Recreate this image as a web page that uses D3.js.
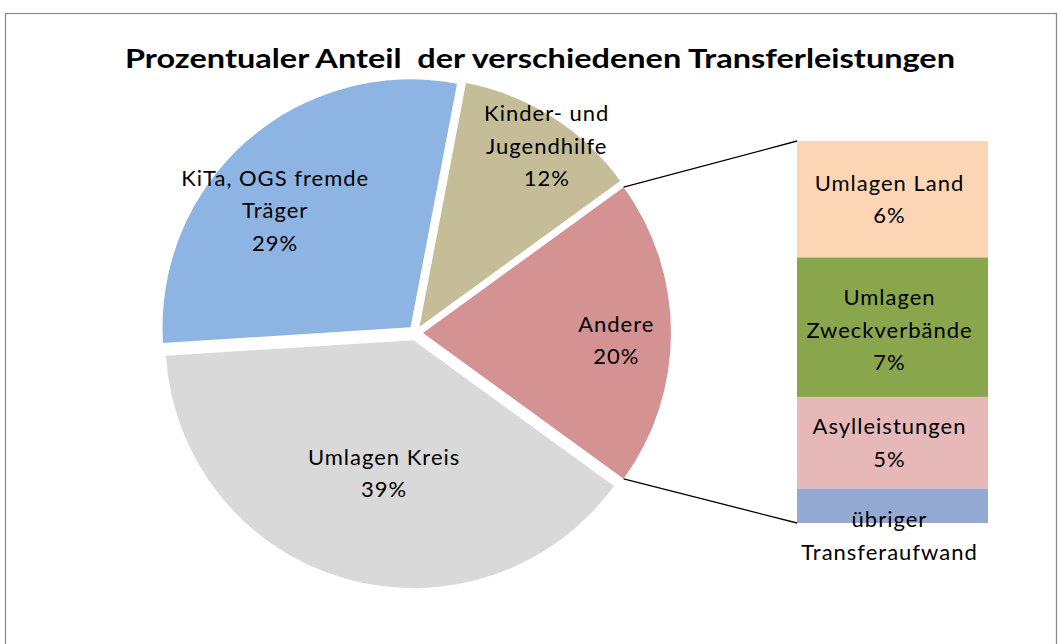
<!DOCTYPE html>
<html>
<head>
<meta charset="utf-8">
<script src="https://cdn.jsdelivr.net/npm/d3@7"></script>
<style>
  body { margin: 0; background: #fff; }
  text { font-family: Lato, "Open Sans", sans-serif; fill: #000; }
</style>
</head>
<body>
<div id="chart"></div>
<script>
// pie data (Andere = sum of the bar)
var pieLabels = [["Andere", "20%"], ["Umlagen Kreis", "39%"], ["KiTa, OGS fremde", "Träger", "29%"], ["Kinder- und", "Jugendhilfe", "12%"]];
var pieValues = [20, 39, 29, 12];
var pieColors = ["#D49292", "#D9D9D9", "#8EB4E3", "#C4BD97"];

// bar of pie data
var barLabels = [["Umlagen Land", "6%"], ["Umlagen", "Zweckverbände", "7%"], ["Asylleistungen", "5%"], ["übriger", "Transferaufwand"]];
var barValues = [6.1, 7.3, 4.8, 1.8];
var barColors = ["#FCD5B5", "#89A64D", "#E6B9B8", "#95AAD2"];

var W = 1058, H = 644;
var svg = d3.select("#chart").append("svg")
    .attr("width", W).attr("height", H);

// chart border
svg.append("rect")
    .attr("x", 5.5).attr("y", 13.5)
    .attr("width", 1051).attr("height", 660)
    .attr("fill", "#fff").attr("stroke", "#888").attr("stroke-width", 1.2);

svg.append("text")
    .attr("x", 540).attr("y", 68)
    .attr("text-anchor", "middle")
    .style("font-weight", "bold").style("font-size", "27px")
    .style("white-space", "pre")
    .attr("textLength", 830).attr("lengthAdjust", "spacingAndGlyphs")
    .text("Prozentualer Anteil  der verschiedenen Transferleistungen");

var cx = 415.5, cy = 333, R = 248, explode = 7.5;
var lineH = 32.5;
var fs = "22px", ls = "1px";

var pie = d3.pie().sort(null)
    .startAngle(54 * Math.PI / 180)
    .endAngle(54 * Math.PI / 180 + 2 * Math.PI);
var arcs = pie(pieValues);
var arc = d3.arc().innerRadius(0).outerRadius(R);

// label placement: fraction of radius and angle shift (deg) from bisector
var labelR = [0.78, 0.55, 0.72, 0.89];
var labelShift = [2.2, -3.8, -7.9, 2.8];

var g = svg.append("g").attr("transform", "translate(" + cx + "," + cy + ")");

arcs.forEach(function(a, i) {
  var mid = (a.startAngle + a.endAngle) / 2;
  var ox = explode * Math.sin(mid), oy = -explode * Math.cos(mid);
  var sg = g.append("g").attr("transform", "translate(" + ox + "," + oy + ")");
  sg.append("path").attr("d", arc(a)).attr("fill", pieColors[i]);
  var la = mid + labelShift[i] * Math.PI / 180;
  var lx = labelR[i] * R * Math.sin(la), ly = -labelR[i] * R * Math.cos(la);
  var lines = pieLabels[i];
  var t = sg.append("text").attr("text-anchor", "middle")
      .style("font-size", fs).style("letter-spacing", ls);
  lines.forEach(function(l, j) {
    t.append("tspan").attr("x", lx)
      .attr("y", ly + (j - (lines.length - 1) / 2) * lineH + 7.5)
      .text(l);
  });
});

// bar of pie
var bx = 797, bw = 191;
var y = d3.scaleLinear().domain([0, d3.sum(barValues)]).range([141, 523]);
var cum = 0;
barValues.forEach(function(v, i) {
  var y0 = y(cum), y1 = y(cum + v);
  cum += v;
  svg.append("rect").attr("x", bx).attr("y", y0)
    .attr("width", bw).attr("height", y1 - y0)
    .attr("fill", barColors[i]);
});
cum = 0;
barValues.forEach(function(v, i) {
  var y0 = y(cum), y1 = y(cum + v);
  cum += v;
  var mcy = (y0 + y1) / 2;
  if (i === 1) mcy += 3;
  if (i === 3) mcy = 536;
  var lines = barLabels[i];
  var t = svg.append("text").attr("text-anchor", "middle")
      .style("font-size", fs).style("letter-spacing", ls);
  lines.forEach(function(l, j) {
    t.append("tspan").attr("x", bx + bw / 2 - 3)
      .attr("y", mcy + (j - (lines.length - 1) / 2) * lineH + 7.5)
      .text(l);
  });
});

// connector lines from Andere slice to bar
var a0 = arcs[0];
var mid0 = (a0.startAngle + a0.endAngle) / 2;
var ex = cx + explode * Math.sin(mid0), ey = cy - explode * Math.cos(mid0);
[[a0.startAngle, y.range()[0]], [a0.endAngle, y.range()[1]]].forEach(function(p) {
  svg.append("line")
    .attr("x1", ex + R * Math.sin(p[0])).attr("y1", ey - R * Math.cos(p[0]))
    .attr("x2", bx).attr("y2", p[1])
    .attr("stroke", "#000").attr("stroke-width", 1.3);
});
</script>
</body>
</html>
